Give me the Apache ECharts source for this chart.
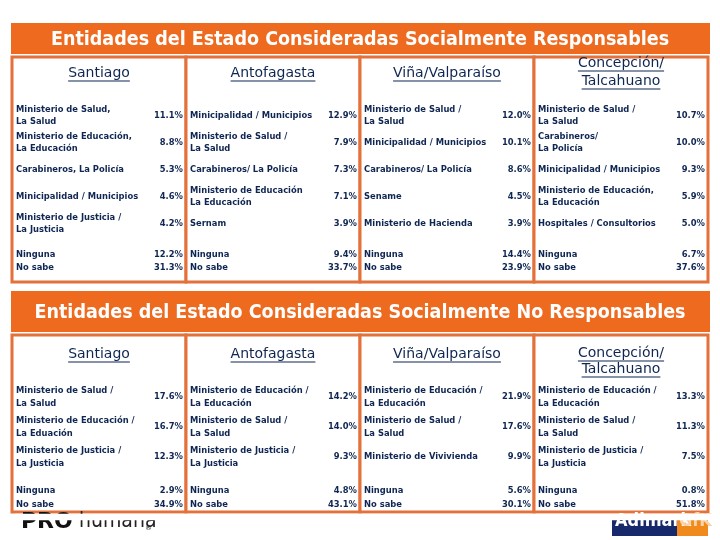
<!DOCTYPE html>
<html><head><meta charset="utf-8">
<script src="https://cdn.jsdelivr.net/npm/echarts@6/dist/echarts.min.js"></script>
<style>html,body{margin:0;padding:0;background:#fff}#c{width:720px;height:540px}</style>
</head><body><div id="c"></div>
<script>
// ---------------- DATA ----------------
const cities = ['Santiago', 'Antofagasta', 'Viña/Valparaíso', 'Concepción/\nTalcahuano'];
const panelTitles = [
  'Entidades del Estado Consideradas Socialmente Responsables',
  'Entidades del Estado Consideradas Socialmente No Responsables'
];
const noneLabel = 'Ninguna';
const dontKnowLabel = 'No sabe';

// Panel 1: Socialmente Responsables
const respSantiagoLabels = ['Ministerio de Salud,\nLa Salud', 'Ministerio de Educación,\nLa Educación', 'Carabineros, La Policía', 'Minicipalidad / Municipios', 'Ministerio de Justicia /\nLa Justicia'];
const respSantiagoValues = [11.1, 8.8, 5.3, 4.6, 4.2];
const respAntofagastaLabels = ['Minicipalidad / Municipios', 'Ministerio de Salud /\nLa Salud', 'Carabineros/ La Policía', 'Ministerio de Educación\nLa Educación', 'Sernam'];
const respAntofagastaValues = [12.9, 7.9, 7.3, 7.1, 3.9];
const respVinaLabels = ['Ministerio de Salud /\nLa Salud', 'Minicipalidad / Municipios', 'Carabineros/ La Policía', 'Sename', 'Ministerio de Hacienda'];
const respVinaValues = [12.0, 10.1, 8.6, 4.5, 3.9];
const respConcepcionLabels = ['Ministerio de Salud /\nLa Salud', 'Carabineros/\nLa Policía', 'Minicipalidad / Municipios', 'Ministerio de Educación,\nLa Educación', 'Hospitales / Consultorios'];
const respConcepcionValues = [10.7, 10.0, 9.3, 5.9, 5.0];
const respNinguna = [12.2, 9.4, 14.4, 6.7];
const respNoSabe = [31.3, 33.7, 23.9, 37.6];

// Panel 2: Socialmente No Responsables
const noRespSantiagoLabels = ['Ministerio de Salud /\nLa Salud', 'Ministerio de Educación /\nLa Eduación', 'Ministerio de Justicia /\nLa Justicia'];
const noRespSantiagoValues = [17.6, 16.7, 12.3];
const noRespAntofagastaLabels = ['Ministerio de Educación /\nLa Educación', 'Ministerio de Salud /\nLa Salud', 'Ministerio de Justicia /\nLa Justicia'];
const noRespAntofagastaValues = [14.2, 14.0, 9.3];
const noRespVinaLabels = ['Ministerio de Educación /\nLa Educación', 'Ministerio de Salud /\nLa Salud', 'Ministerio de Vivivienda'];
const noRespVinaValues = [21.9, 17.6, 9.9];
const noRespConcepcionLabels = ['Ministerio de Educación /\nLa Educación', 'Ministerio de Salud /\nLa Salud', 'Ministerio de Justicia /\nLa Justicia'];
const noRespConcepcionValues = [13.3, 11.3, 7.5];
const noRespNinguna = [2.9, 4.8, 5.6, 0.8];
const noRespNoSabe = [34.9, 43.1, 30.1, 51.8];

// ---------------- LAYOUT / STYLE ----------------
const NAVY = '#0f2652';
const BAND = '#ee6a1f';
const BORDER = '#e4713a';
const BODY_FONT = '"DejaVu Sans Condensed", "DejaVu Sans", sans-serif';
const HEAD_FONT = '"DejaVu Sans", sans-serif';

const panels = [
  {
    title: panelTitles[0], bandTop: 23, bandBottom: 54, titleSize: 19.5,
    gridTop: 57, gridBottom: 282, firstRow: 116, pitch: 27,
    headSingle: 73, headMultiFirst: 63, headGap: 18, lineH: 12,
    noneY: 255, dkY: 268,
    labels: [respSantiagoLabels, respAntofagastaLabels, respVinaLabels, respConcepcionLabels],
    values: [respSantiagoValues, respAntofagastaValues, respVinaValues, respConcepcionValues],
    none: respNinguna, dk: respNoSabe
  },
  {
    title: panelTitles[1], bandTop: 291, bandBottom: 332, titleSize: 19.5,
    gridTop: 335, gridBottom: 512, firstRow: 397, pitch: 30,
    headSingle: 354, headMultiFirst: 353, headGap: 16, lineH: 13,
    noneY: 491, dkY: 505,
    labels: [noRespSantiagoLabels, noRespAntofagastaLabels, noRespVinaLabels, noRespConcepcionLabels],
    values: [noRespSantiagoValues, noRespAntofagastaValues, noRespVinaValues, noRespConcepcionValues],
    none: noRespNinguna, dk: noRespNoSabe
  }
];
const COL_LEFT = 12, COL_W = 174;

const measureCtx = document.createElement('canvas').getContext('2d');
function textW(t, font) { measureCtx.font = font; return measureCtx.measureText(t).width; }

const grids = [], xAxes = [], yAxes = [], series = [], titles = [], graphics = [];
let gi = 0;
panels.forEach((p, pi) => {
  graphics.push({ type: 'rect', shape: { x: 11, y: p.bandTop, width: 699, height: p.bandBottom - p.bandTop }, style: { fill: BAND }, z: 0 });
  titles.push({
    text: p.title, left: 'center', top: (p.bandTop + p.bandBottom) / 2 - 10,
    textStyle: { color: '#fff', fontFamily: BODY_FONT, fontWeight: 'bold', fontSize: p.titleSize, lineHeight: 22 }, padding: 0
  });
  const toY = px => (px - p.firstRow) / p.pitch;
  cities.forEach((city, c) => {
    grids.push({ left: COL_LEFT + c * COL_W, width: COL_W, top: p.gridTop, height: p.gridBottom - p.gridTop,
      show: true, backgroundColor: '#fff', borderColor: BORDER, borderWidth: 3 });
    xAxes.push({ type: 'value', gridIndex: gi, min: 0, max: 1, show: false });
    yAxes.push({ type: 'value', gridIndex: gi, inverse: true, min: toY(p.gridTop), max: toY(p.gridBottom), show: false });

    const labs = p.labels[c], vals = p.values[c];
    const labelData = labs.map((l, i) => ({ name: l, value: [0, i] }));
    labelData.push({ name: noneLabel, value: [0, toY(p.noneY)] });
    labelData.push({ name: dontKnowLabel, value: [0, toY(p.dkY)] });
    const valueData = vals.map((v, i) => ({ value: [1, i, v] }));
    valueData.push({ value: [1, toY(p.noneY), p.none[c]] });
    valueData.push({ value: [1, toY(p.dkY), p.dk[c]] });

    const bodyText = { color: NAVY, fontFamily: BODY_FONT, fontWeight: 'bold', fontSize: 9.3, lineHeight: p.lineH, opacity: 1 };
    const base = { type: 'scatter', xAxisIndex: gi, yAxisIndex: gi, silent: true, itemStyle: { opacity: 1, color: NAVY } };
    series.push(Object.assign({}, base, {
      symbolSize: 0, data: labelData,
      label: Object.assign({ show: true, position: 'right', distance: 4, formatter: '{b}', align: 'left' }, bodyText)
    }));
    series.push(Object.assign({}, base, {
      symbolSize: 0, data: valueData,
      label: Object.assign({ show: true, position: 'left', distance: 3, align: 'right',
        formatter: q => q.value[2].toFixed(1) + '%' }, bodyText)
    }));

    // header lines (underlined)
    const lines = city.split('\n');
    const headData = [], ulData = [];
    lines.forEach((ln, k) => {
      const ypx = lines.length === 1 ? p.headSingle : p.headMultiFirst + k * p.headGap;
      headData.push({ name: ln, value: [0.5, toY(ypx)] });
      ulData.push({ value: [0.5, toY(ypx)], symbolSize: [textW(ln, '14px "DejaVu Sans"'), 1] });
    });
    series.push(Object.assign({}, base, {
      symbolSize: 0, data: headData,
      label: { show: true, position: 'inside', formatter: '{b}', color: NAVY, fontFamily: HEAD_FONT, fontSize: 14, opacity: 1 }
    }));
    series.push(Object.assign({}, base, {
      symbol: 'rect', symbolOffset: [0, 8], data: ulData
    }));
    gi++;
  });
});

// logos (partially hidden at the top, as in the source)
graphics.push({ type: 'text', x: 21, y: 511, z: 1, style: { text: 'PRO', font: '900 22px "DejaVu Sans"', fill: '#111' } });
graphics.push({ type: 'text', x: 79, y: 511, z: 1, style: { text: 'humana', font: '21px "Liberation Sans Narrow", "DejaVu Sans Condensed"', fill: '#222' } });
graphics.push({ type: 'text', x: 145, y: 525, z: 1, style: { text: '®', font: '7px "DejaVu Sans"', fill: '#222' } });
graphics.push({ type: 'rect', z: 1, shape: { x: 612, y: 520, width: 65, height: 16 }, style: { fill: '#17296a' } });
graphics.push({ type: 'rect', z: 1, shape: { x: 677, y: 520, width: 31, height: 16 }, style: { fill: '#f08a1c' } });
graphics.push({ type: 'text', x: 615, y: 512, z: 2, style: { text: 'Adimark', font: 'bold 18px "DejaVu Sans Condensed"', fill: '#fff' } });
graphics.push({ type: 'text', x: 679, y: 512, z: 2, style: { text: 'GfK', font: 'bold 18px "DejaVu Sans Condensed"', fill: '#fbd3a8' } });
graphics.push({ type: 'rect', z: 3, shape: { x: 15, y: 513.8, width: 700, height: 6.4 }, style: { fill: '#fff' } });

const chart = echarts.init(document.getElementById('c'), null, { renderer: 'canvas' });
chart.setOption({
  animation: false,
  backgroundColor: '#fff',
  title: titles,
  grid: grids, xAxis: xAxes, yAxis: yAxes,
  series: series,
  graphic: graphics
});
</script></body></html>
